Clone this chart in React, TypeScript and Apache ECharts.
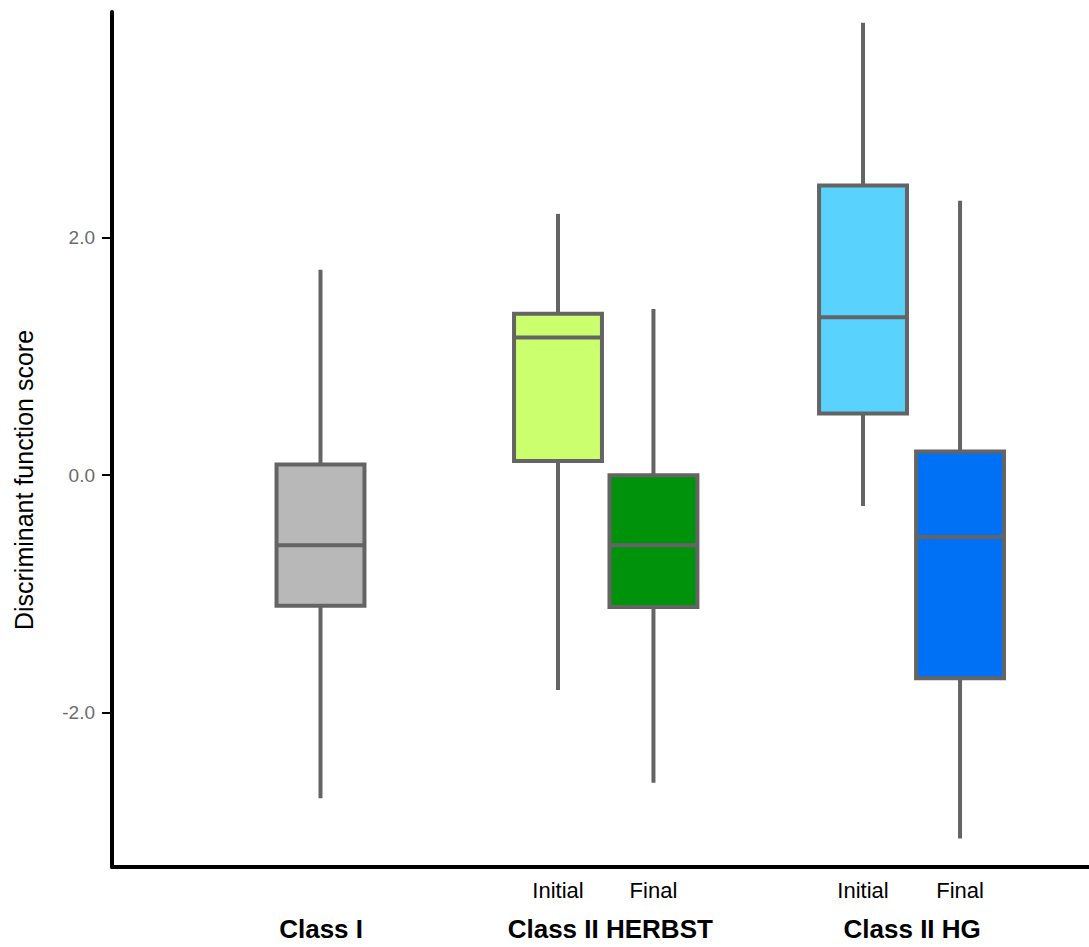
import React, { useEffect, useRef } from "react";
import * as echarts from "echarts";

// ---- data ----
const groups = ["Class I", "Class II HERBST", "Class II HG"];
const groupPositions = [2.14, 5.1, 8.19];
const phases = ["", "Initial", "Final", "Initial", "Final"];
const boxPositions = [2.134, 4.565, 5.542, 7.687, 8.68];
const mins = [-2.72, -1.81, -2.59, -0.26, -3.06];
const q1s = [-1.1, 0.12, -1.11, 0.52, -1.71];
const medians = [-0.59, 1.16, -0.59, 1.33, -0.52];
const q3s = [0.09, 1.36, 0.0, 2.44, 0.2];
const maxs = [1.73, 2.2, 1.4, 3.81, 2.31];
const boxColors = ["#b8b8b8", "#ccff6e", "#00920a", "#5ad2fe", "#0070f4"];
const yTicks = [-2, 0, 2];

const FONT = "'Liberation Sans', Arial, Helvetica, sans-serif";
const EDGE = "#646464";
const BOX_W = 0.9;

function findIndex(arr: number[], v: number) {
  for (let i = 0; i < arr.length; i++) if (Math.abs(arr[i] - v) < 1e-6) return i;
  return -1;
}

export default function App() {
  const ref = useRef<HTMLDivElement>(null);
  useEffect(() => {
    if (!ref.current) return;
    const chart = echarts.init(ref.current, null, { renderer: "svg" });
    const data = boxPositions.map((x, i) => [x, mins[i], q1s[i], medians[i], q3s[i], maxs[i]]);
    chart.setOption({
      animation: false,
      backgroundColor: "#ffffff",
      grid: { left: 112, right: 0, top: 12, bottom: 80 },
      xAxis: [
        {
          type: "value",
          min: 0,
          max: 10,
          splitLine: { show: false },
          axisLine: { show: true, onZero: false, lineStyle: { color: "#000", width: 4 } },
          axisTick: { show: false },
          axisLabel: {
            customValues: boxPositions.filter((_, i) => phases[i] !== ""),
            formatter: (v: number) => {
              const i = findIndex(boxPositions, v);
              return i >= 0 ? phases[i] : "";
            },
            margin: 12,
            color: "#000",
            fontSize: 22,
            fontFamily: FONT,
          },
        },
        {
          type: "value",
          position: "bottom",
          min: 0,
          max: 10,
          splitLine: { show: false },
          axisLine: { show: false, onZero: false },
          axisTick: { show: false },
          axisLabel: {
            customValues: groupPositions,
            formatter: (v: number) => {
              const i = findIndex(groupPositions, v);
              return i >= 0 ? groups[i] : "";
            },
            margin: 49,
            color: "#000",
            fontSize: 26,
            fontWeight: "bold",
            fontFamily: FONT,
          },
        },
      ],
      yAxis: {
        type: "value",
        min: -3.3,
        max: 3.9,
        splitLine: { show: false },
        axisLine: { show: true, onZero: false, lineStyle: { color: "#000", width: 4 } },
        axisTick: {
          show: true,
          customValues: yTicks,
          length: 10,
          lineStyle: { color: "#000", width: 2 },
        },
        axisLabel: {
          customValues: yTicks,
          formatter: (v: number) => v.toFixed(1),
          margin: 17,
          color: "#6b6b6b",
          fontSize: 19,
          fontFamily: FONT,
        },
      },
      graphic: [
        {
          type: "text",
          x: 24,
          y: 480,
          rotation: Math.PI / 2,
          style: {
            text: "Discriminant function score",
            font: `25px ${FONT}`,
            fill: "#000",
            textAlign: "center",
            textVerticalAlign: "middle",
          },
        },
      ],
      series: [
        {
          type: "custom",
          xAxisIndex: 0,
          yAxisIndex: 0,
          data,
          encode: { x: 0, y: [1, 2, 3, 4, 5] },
          renderItem: (params: any, api: any) => {
            const x = api.value(0);
            const lo = api.coord([x, api.value(1)]);
            const q1 = api.coord([x, api.value(2)]);
            const med = api.coord([x, api.value(3)]);
            const q3 = api.coord([x, api.value(4)]);
            const hi = api.coord([x, api.value(5)]);
            const w = api.size([BOX_W, 0])[0];
            const fill = boxColors[params.dataIndex];
            const line = { stroke: EDGE, lineWidth: 4 };
            return {
              type: "group",
              children: [
                { type: "line", shape: { x1: hi[0], y1: hi[1], x2: q3[0], y2: q3[1] }, style: line },
                { type: "line", shape: { x1: q1[0], y1: q1[1], x2: lo[0], y2: lo[1] }, style: line },
                {
                  type: "rect",
                  shape: { x: q3[0] - w / 2, y: q3[1], width: w, height: q1[1] - q3[1] },
                  style: { fill, stroke: EDGE, lineWidth: 4 },
                },
                {
                  type: "line",
                  shape: { x1: med[0] - w / 2, y1: med[1], x2: med[0] + w / 2, y2: med[1] },
                  style: line,
                },
              ],
            };
          },
        },
      ],
    });
    return () => chart.dispose();
  }, []);
  return (
    <div
      ref={ref}
      style={{ position: "fixed", left: 0, top: 0, width: 1089, height: 947 }}
    />
  );
}
